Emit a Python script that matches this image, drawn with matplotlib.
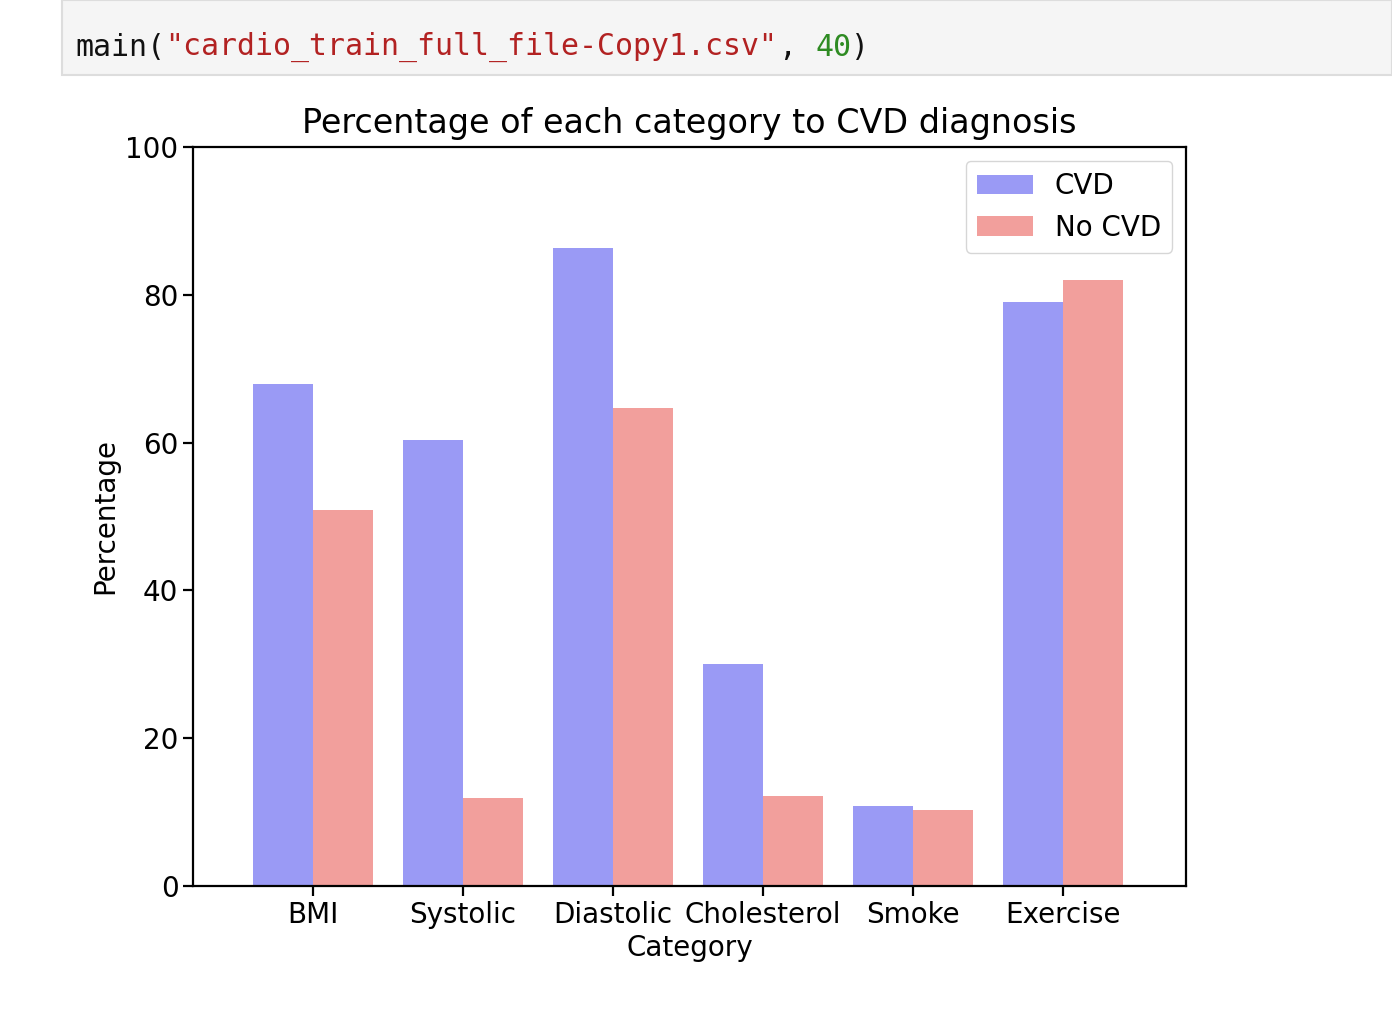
import matplotlib

matplotlib.use("Agg")
import matplotlib.pyplot as plt
import numpy as np
from matplotlib.patches import Rectangle

CATEGORIES = ["BMI", "Systolic", "Diastolic", "Cholesterol", "Smoke", "Exercise"]
CVD = [67.9, 60.4, 86.3, 30.0, 10.8, 79.0]
NO_CVD = [50.9, 11.9, 64.7, 12.2, 10.3, 82.0]

W, H = 1392, 1016
fig = plt.figure(figsize=(W / 100, H / 100), dpi=100)

# notebook cell header
fig.patches.append(Rectangle((62 / W, 1 - 75 / H), 1 - 62 / W, 75 / H,
                             transform=fig.transFigure, facecolor="#f5f5f5",
                             edgecolor="#dddddd", linewidth=1.5))
pieces = [("main(", "#111111"), ('"cardio_train_full_file-Copy1.csv"', "#b22222"),
          (", ", "#111111"), ("40", "#2e8b22"), (")", "#111111")]
col = 0
for txt, color in pieces:
    fig.text((75 + 18.05 * col) / W, 1 - 47 / H, txt, color=color,
             family="DejaVu Sans Mono", fontsize=21.5, va="center", ha="left")
    col += len(txt)

ax = fig.add_axes([193 / W, 1 - 886 / H, (1186 - 193) / W, (886 - 147) / H])
x = np.arange(len(CATEGORIES))
ax.bar(x - 0.2, CVD, width=0.4, color="#9a9af5", label="CVD")
ax.bar(x + 0.2, NO_CVD, width=0.4, color="#f29f9c", label="No CVD")
ax.set_xlim(-0.8, 5.82)
ax.set_ylim(0, 100)
ax.set_xticks(x, CATEGORIES)
ax.tick_params(labelsize=20, width=1.6, length=7)
for s in ax.spines.values():
    s.set_linewidth(1.6)
ax.set_xlabel("Category", fontsize=20)
ax.set_ylabel("Percentage", fontsize=20)
ax.set_title("Percentage of each category to CVD diagnosis", fontsize=24, pad=10)
ax.legend(fontsize=20, loc="upper right")

fig.savefig("out.png", dpi=100)
